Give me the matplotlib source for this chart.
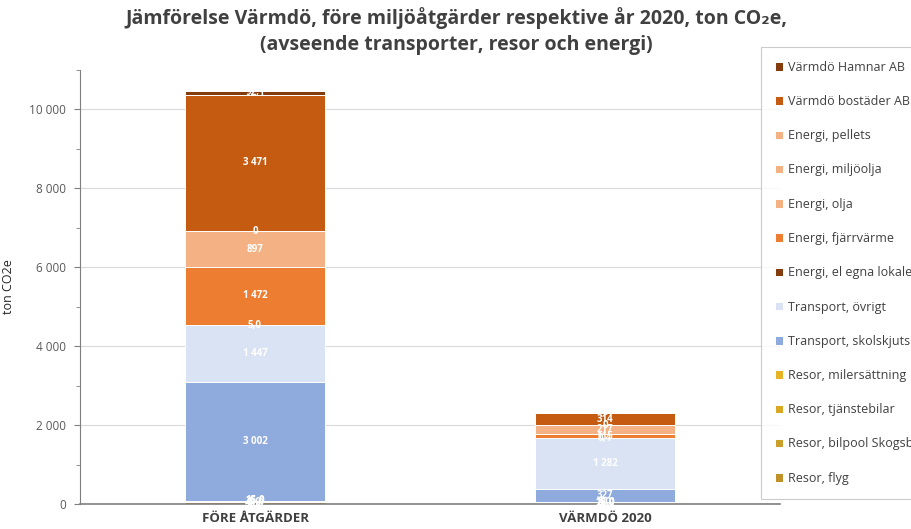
import numpy as np
import matplotlib
matplotlib.use("Agg")
import matplotlib.pyplot as plt
from matplotlib.ticker import FuncFormatter, MultipleLocator

plt.rcParams['font.family'] = ['Open Sans', 'DejaVu Sans']

categories = ["FÖRE ÅTGÄRDER", "VÄRMDÖ 2020"]

# stack order bottom -> top (None = no segment / no label)
series_names = [
    "Resor, flyg",
    "Resor, bilpool Skogsbo",
    "Resor, tjänstebilar",
    "Resor, milersättning",
    "Transport, skolskjuts",
    "Transport, övrigt",
    "Energi, el egna lokaler",
    "Energi, fjärrvärme",
    "Energi, olja",
    "Energi, miljöolja",
    "Energi, pellets",
    "Värmdö bostäder AB",
    "Värmdö Hamnar AB",
]
resor_flyg = [40, 25]
resor_bilpool = [5, 3]
resor_tjanstebilar = [25, 15]
resor_milersattning = [15, 12]
transport_skolskjuts = [3002, 327]
transport_ovrigt = [1447, 1282]
energi_el = [5.0, 0.4]
energi_fjarrvarme = [1472, 115]
energi_olja = [897, None]
energi_miljoolja = [0, 217]
energi_pellets = [None, 0]
bostader = [3471, 314]
hamnar = [92.1, 0]

series_values = [
    resor_flyg, resor_bilpool, resor_tjanstebilar, resor_milersattning,
    transport_skolskjuts, transport_ovrigt, energi_el, energi_fjarrvarme,
    energi_olja, energi_miljoolja, energi_pellets, bostader, hamnar,
]
series_colors = [
    "#BF9126", "#C9A02A", "#D9A821", "#E6B422",
    "#8FAADC", "#DAE3F3", "#843C0C", "#ED7D31",
    "#F4B183", "#F4B183", "#F4B183", "#C55A11", "#843C0C",
]


def sv_num(v, pos=None):
    return f"{v:,.0f}".replace(",", " ")


def seg_label(v):
    if v == 0:
        return "0"
    if v >= 100:
        return sv_num(v)
    return f"{v:.1f}".replace(".", ",")


fig = plt.figure(figsize=(9.12, 5.29), dpi=100)
ax = fig.add_axes([80 / 912, 1 - 504 / 529, 700 / 912, 434 / 529])

x = np.arange(len(categories))
bottom = np.zeros(len(categories))
handles = []
for name, vals, col in zip(series_names, series_values, series_colors):
    h = np.array([0 if v is None else v for v in vals], dtype=float)
    bars = ax.bar(x, h, 0.4, bottom=bottom, color=col, edgecolor="white",
                  linewidth=0.7, label=name)
    handles.append(bars)
    for xi, v, b in zip(x, vals, bottom):
        if v is None:
            continue
        ax.text(xi, b + v / 2, seg_label(v), ha="center", va="center",
                color="white", fontsize=7, fontweight="bold")
    bottom += h

ax.set_xlim(-0.5, 1.5)
ax.set_ylim(0, 11000)
ax.yaxis.set_major_locator(MultipleLocator(2000))
ax.yaxis.set_minor_locator(MultipleLocator(1000))
ax.yaxis.set_major_formatter(FuncFormatter(sv_num))
ax.grid(axis="y", color="#D9D9D9", linewidth=0.8)
ax.set_axisbelow(True)
ax.set_xticks(x)
ax.set_xticklabels(categories, fontweight="bold", fontsize=9.5, color="#404040")
ax.tick_params(axis="x", length=0, pad=6)
ax.tick_params(axis="y", which="major", length=4, color="#7F7F7F",
               labelsize=8.5, labelcolor="#595959", pad=6)
ax.tick_params(axis="y", which="minor", length=3, color="#7F7F7F")
for s in ["top", "right"]:
    ax.spines[s].set_visible(False)
ax.spines["left"].set_color("#7F7F7F")
ax.spines["bottom"].set_color("#7F7F7F")
ax.spines["bottom"].set_linewidth(1.2)
ax.set_ylabel("ton CO2e", fontsize=9, color="#262626", labelpad=10)

fig.text(0.5, 1 - 18 / 529, "Jämförelse Värmdö, före miljöåtgärder respektive år 2020, ton CO₂e,",
         ha="center", va="center", fontsize=14, fontweight="bold", color="#404040")
fig.text(0.5, 1 - 45 / 529, "(avseende transporter, resor och energi)",
         ha="center", va="center", fontsize=14, fontweight="bold", color="#404040")

leg = fig.legend(handles[::-1], series_names[::-1], loc="upper left",
                 bbox_to_anchor=(761 / 912, 1 - 47 / 529), fontsize=9,
                 labelspacing=1.7, handlelength=0.65, handleheight=0.65,
                 handletextpad=0.4, borderpad=1.1, fancybox=False,
                 edgecolor="#BFBFBF", borderaxespad=0)
leg.get_frame().set_linewidth(0.8)
for t in leg.get_texts():
    t.set_color("#404040")

fig.savefig("out.png", dpi=100)
